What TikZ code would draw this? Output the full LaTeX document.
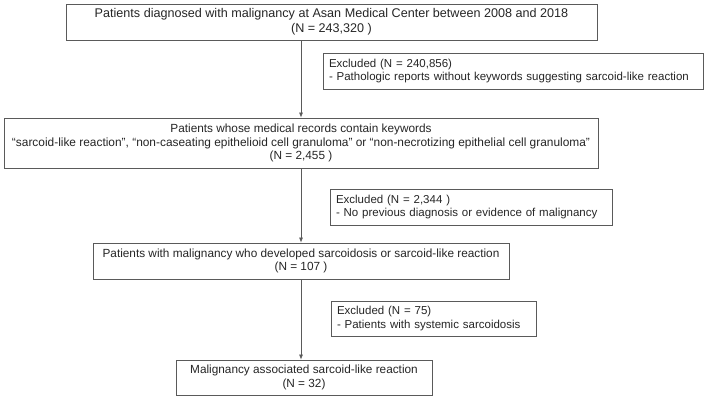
\documentclass[tikz,border=0pt]{standalone}
\usepackage{fontspec}
\setmainfont{Liberation Sans}
\usetikzlibrary{arrows.meta}
\definecolor{linegray}{HTML}{5A5A5A}
\definecolor{txt}{HTML}{262626}
\begin{document}
\begin{tikzpicture}[x=1pt,y=-1pt,
  box/.style={draw=linegray, line width=0.8pt, inner sep=0pt, align=center,
    font=\fontsize{11.8}{13.8}\selectfont, text=txt},
  exbox/.style={box, align=left, font=\fontsize{11.5}{13.8}\selectfont},
  arr/.style={-{Latex[length=5pt,width=4pt]}, draw=linegray, line width=0.7pt}]
\useasboundingbox[fill=white] (0,0) rectangle (708,400);

\node[box, minimum width=531, minimum height=36, font=\fontsize{12.6}{14.6}\selectfont] (b1) at (331.5,22)
  {Patients diagnosed with malignancy at Asan Medical Center between 2008 and 2018\\(N = 243,320 )};
\node[exbox, minimum width=380, minimum height=36, text width=368] (e1) at (513,71)
  {\mbox{Excluded (N = 240,856)}\\\mbox{- Pathologic reports without keywords suggesting sarcoid-like reaction}};
\node[box, minimum width=594, minimum height=50] (b2) at (301,143)
  {Patients whose medical records contain keywords\\\resizebox{578pt}{!}{``sarcoid-like reaction'', ``non-caseating epithelioid cell granuloma'' or ``non-necrotizing epithelial cell granuloma''}\\(N = 2,455 )};
\node[exbox, minimum width=282, minimum height=36, text width=270] (e2) at (471,207)
  {\mbox{Excluded (N = 2,344 )}\\\mbox{- No previous diagnosis or evidence of malignancy}};
\node[box, minimum width=416, minimum height=36] (b3) at (301,261)
  {Patients with malignancy who developed sarcoidosis or sarcoid-like reaction\\(N = 107 )};
\node[exbox, minimum width=205, minimum height=35, text width=193] (e3) at (433.5,318.5)
  {\mbox{Excluded (N = 75)}\\\mbox{- Patients with systemic sarcoidosis}};
\node[box, minimum width=256, minimum height=35] (b4) at (304,377.5)
  {Malignancy associated sarcoid-like reaction\\(N = 32)};

\draw[arr] (b1.south -| b2.north) -- (b2.north);
\draw[arr] (b2.south) -- (b3.north);
\draw[arr] (b3.south -| b2.south) -- (b4.north -| b2.south);
\end{tikzpicture}
\end{document}
